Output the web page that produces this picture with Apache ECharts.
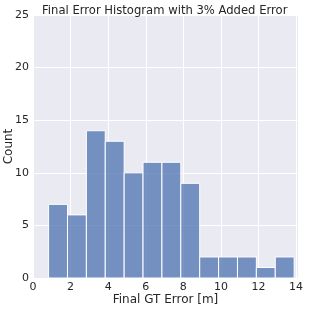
<!DOCTYPE html>
<html>
<head>
<meta charset="utf-8">
<script src="https://cdn.jsdelivr.net/npm/echarts@6/dist/echarts.min.js"></script>
<style>html,body{margin:0;padding:0;background:#fff}#c{width:309px;height:309px}</style>
</head>
<body>
<div id="c"></div>
<script>
var binEdges = [0.83, 1.835, 2.84, 3.845, 4.85, 5.855, 6.86, 7.865, 8.87, 9.875, 10.88, 11.885, 12.89, 13.895];
var counts = [7, 6, 14, 13, 10, 11, 11, 9, 2, 2, 2, 1, 2];
var xTicks = [0, 2, 4, 6, 8, 10, 12, 14];
var yTicks = [0, 5, 10, 15, 20, 25];

var data = counts.map(function (c, i) { return [binEdges[i], binEdges[i + 1], c]; });
var font = 'DejaVu Sans';
var chart = echarts.init(document.getElementById('c'), null, {renderer: 'canvas'});
chart.setOption({
  animation: false,
  backgroundColor: '#ffffff',
  title: {
    text: 'Final Error Histogram with 3% Added Error',
    left: 37, top: 0,
    textStyle: {fontFamily: font, fontSize: 11.6, fontWeight: 'normal', color: '#262626'}
  },
  grid: {left: 33, right: 11, top: 15, bottom: 31, show: true, backgroundColor: '#EAEAF2', borderWidth: 0,
         containLabel: false, outerBoundsMode: 'none'},
  xAxis: {
    type: 'value', min: 0, max: 14.1, interval: 2,
    name: 'Final GT Error [m]', nameLocation: 'middle', nameGap: 16, nameMoveOverlap: false,
    nameTextStyle: {fontFamily: font, fontSize: 12, color: '#262626'},
    axisLine: {show: false}, axisTick: {show: false},
    axisLabel: {fontFamily: font, fontSize: 11, color: '#262626', margin: 4,
      formatter: function (v) { return xTicks.indexOf(v) >= 0 ? String(v) : ''; }},
    splitLine: {show: true, lineStyle: {color: '#ffffff', width: 1}}
  },
  yAxis: {
    type: 'value', min: 0, max: 25, interval: 5,
    name: 'Count', nameLocation: 'middle', nameGap: 18, nameMoveOverlap: false,
    nameTextStyle: {fontFamily: font, fontSize: 12, color: '#262626'},
    axisLine: {show: false}, axisTick: {show: false},
    axisLabel: {fontFamily: font, fontSize: 11, color: '#262626', margin: 4,
      formatter: function (v) { return yTicks.indexOf(v) >= 0 ? String(v) : ''; }},
    splitLine: {show: true, lineStyle: {color: '#ffffff', width: 1}}
  },
  series: [{
    type: 'custom',
    data: data,
    encode: {x: [0, 1], y: 2},
    renderItem: function (params, api) {
      var p0 = api.coord([api.value(0), api.value(2)]);
      var p1 = api.coord([api.value(1), 0]);
      return {
        type: 'rect',
        shape: {x: p0[0], y: p0[1], width: p1[0] - p0[0], height: p1[1] - p0[1]},
        style: {fill: 'rgba(76,114,176,0.75)', stroke: '#ffffff', lineWidth: 1}
      };
    }
  }]
});
</script>
</body>
</html>
